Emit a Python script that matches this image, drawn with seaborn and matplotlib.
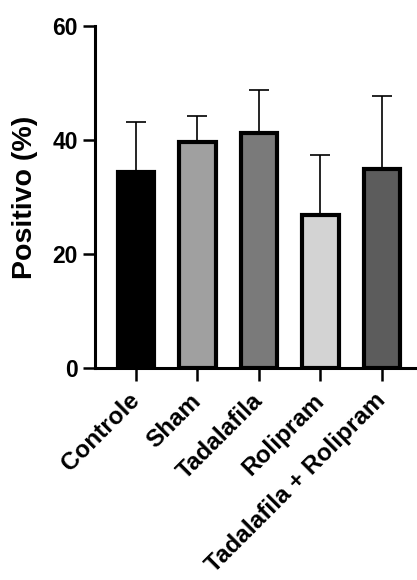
import matplotlib
matplotlib.use("Agg")
import matplotlib.pyplot as plt
import seaborn as sns
import pandas as pd

categories = ["Controle", "Sham", "Tadalafila", "Rolipram", "Tadalafila + Rolipram"]
means = [34.3, 39.7, 41.3, 26.8, 34.9]
upper = [43.2, 44.2, 48.7, 37.3, 47.8]
colors = ["#000000", "#a0a0a0", "#7a7a7a", "#d3d3d3", "#5c5c5c"]
yticks = [0, 20, 40, 60]

sns.set_style("ticks")
plt.rcParams['font.family'] = ['Liberation Sans', 'DejaVu Sans']
plt.rcParams['text.color'] = 'black'
plt.rcParams['axes.labelcolor'] = 'black'

df = pd.DataFrame({"grupo": categories, "valor": means})

fig = plt.figure(figsize=(4.17, 5.80), dpi=100)
ax = fig.add_axes([0.2278, 0.3655, 0.7722, 0.5897])

errs = [u - m for u, m in zip(upper, means)]
ax.errorbar(range(len(categories)), means, yerr=[[0]*len(means), errs],
            fmt='none', ecolor='black', elinewidth=1.2, capsize=7.5,
            capthick=1.2, zorder=1)

sns.barplot(data=df, x="grupo", y="valor", hue="grupo", palette=colors,
            legend=False, width=0.59, edgecolor="black", linewidth=3,
            ax=ax, zorder=2, errorbar=None)

ax.set_ylim(0, 60)
ax.set_xlim(-0.667, 4.57)
ax.set_yticks(yticks)
ax.set_yticklabels([str(t) for t in yticks], fontsize=16.5, fontweight='bold')
ax.set_xticks(range(len(categories)))
ax.set_xticklabels(categories, rotation=45, ha='right', va='center',
                   rotation_mode='anchor', fontsize=17.5, fontweight='bold')
ax.set_xlabel("")
ax.set_ylabel("Positivo (%)", fontsize=20.5, fontweight='bold', labelpad=10,
              color='black')

for s in ["top", "right"]:
    ax.spines[s].set_visible(False)
for s in ["left", "bottom"]:
    ax.spines[s].set_linewidth(2.2)
    ax.spines[s].set_color("black")
ax.tick_params(axis='both', direction='out', length=9, width=1.8, colors='black', pad=3.5)
ax.tick_params(axis='x', pad=12)

fig.savefig("out.png", dpi=100)
